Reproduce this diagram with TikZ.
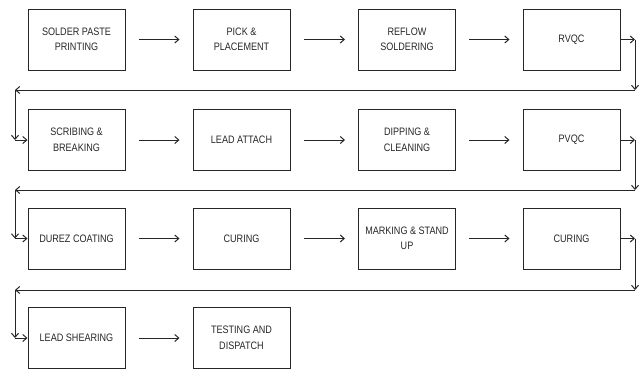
\documentclass[tikz,border=0pt]{standalone}
\usepackage{fontspec}
\setmainfont[FakeStretch=0.84]{Liberation Sans}
\usetikzlibrary{arrows.meta}
\begin{document}
\begin{tikzpicture}[x=1pt,y=-1pt,
  stepbox/.style={draw=black!85,line width=1pt,minimum width=97pt,minimum height=61pt,inner sep=1pt,align=center,font=\fontsize{10.8}{15.5}\selectfont,text=black!85},
  conn/.style={draw=black!85,line width=1pt,-{Straight Barb[length=4pt,width=7pt]}}]
\useasboundingbox (0,0) rectangle (640,370);
% row 1
\node[stepbox] (a1) at (76.5,39.5) {SOLDER PASTE\\PRINTING};
\node[stepbox] (a2) at (241.5,39.5) {PICK \&\\PLACEMENT};
\node[stepbox] (a3) at (407,39.5) {REFLOW\\SOLDERING};
\node[stepbox] (a4) at (571.5,39.5) {RVQC};
% row 2
\node[stepbox] (b1) at (76.5,140) {SCRIBING \&\\BREAKING};
\node[stepbox] (b2) at (241.5,140) {LEAD ATTACH};
\node[stepbox] (b3) at (407,140) {DIPPING \&\\CLEANING};
\node[stepbox] (b4) at (571.5,140) {PVQC};
% row 3
\node[stepbox] (c1) at (76.5,238.5) {DUREZ COATING};
\node[stepbox] (c2) at (241.5,238.5) {CURING};
\node[stepbox] (c3) at (407,238.5) {MARKING \& STAND\\UP};
\node[stepbox] (c4) at (571.5,238.5) {CURING};
% row 4
\node[stepbox] (d1) at (76.5,338) {LEAD SHEARING};
\node[stepbox] (d2) at (241.5,338) {TESTING AND\\DISPATCH};
% horizontal arrows
\foreach \r in {a,b,c}{
  \draw[conn] ([xshift=13pt]\r1.east) -- ([xshift=-13pt]\r2.west);
  \draw[conn] ([xshift=13pt]\r2.east) -- ([xshift=-13pt]\r3.west);
  \draw[conn] ([xshift=13pt]\r3.east) -- ([xshift=-13pt]\r4.west);
}
\draw[conn] ([xshift=13pt]d1.east) -- ([xshift=-13pt]d2.west);
% return connectors
\coordinate (xr) at (635,0);
\coordinate (xl) at (15,0);
\foreach \r/\n/\yr in {a/b/90,b/c/190,c/d/290}{
  \coordinate (\r D) at (635,\yr);
  \coordinate (\r L) at (15,\yr);
  \draw[conn] (\r4.east) -- (\r4.east -| xr);
  \draw[conn] (\r4.east -| xr) -- (\r D);
  \draw[conn] (\r D) -- (\r L);
  \draw[conn] (\r L) -- (\n1.west -| xl);
  \draw[conn] (\n1.west -| xl) -- (\n1.west);
}
\end{tikzpicture}
\end{document}
